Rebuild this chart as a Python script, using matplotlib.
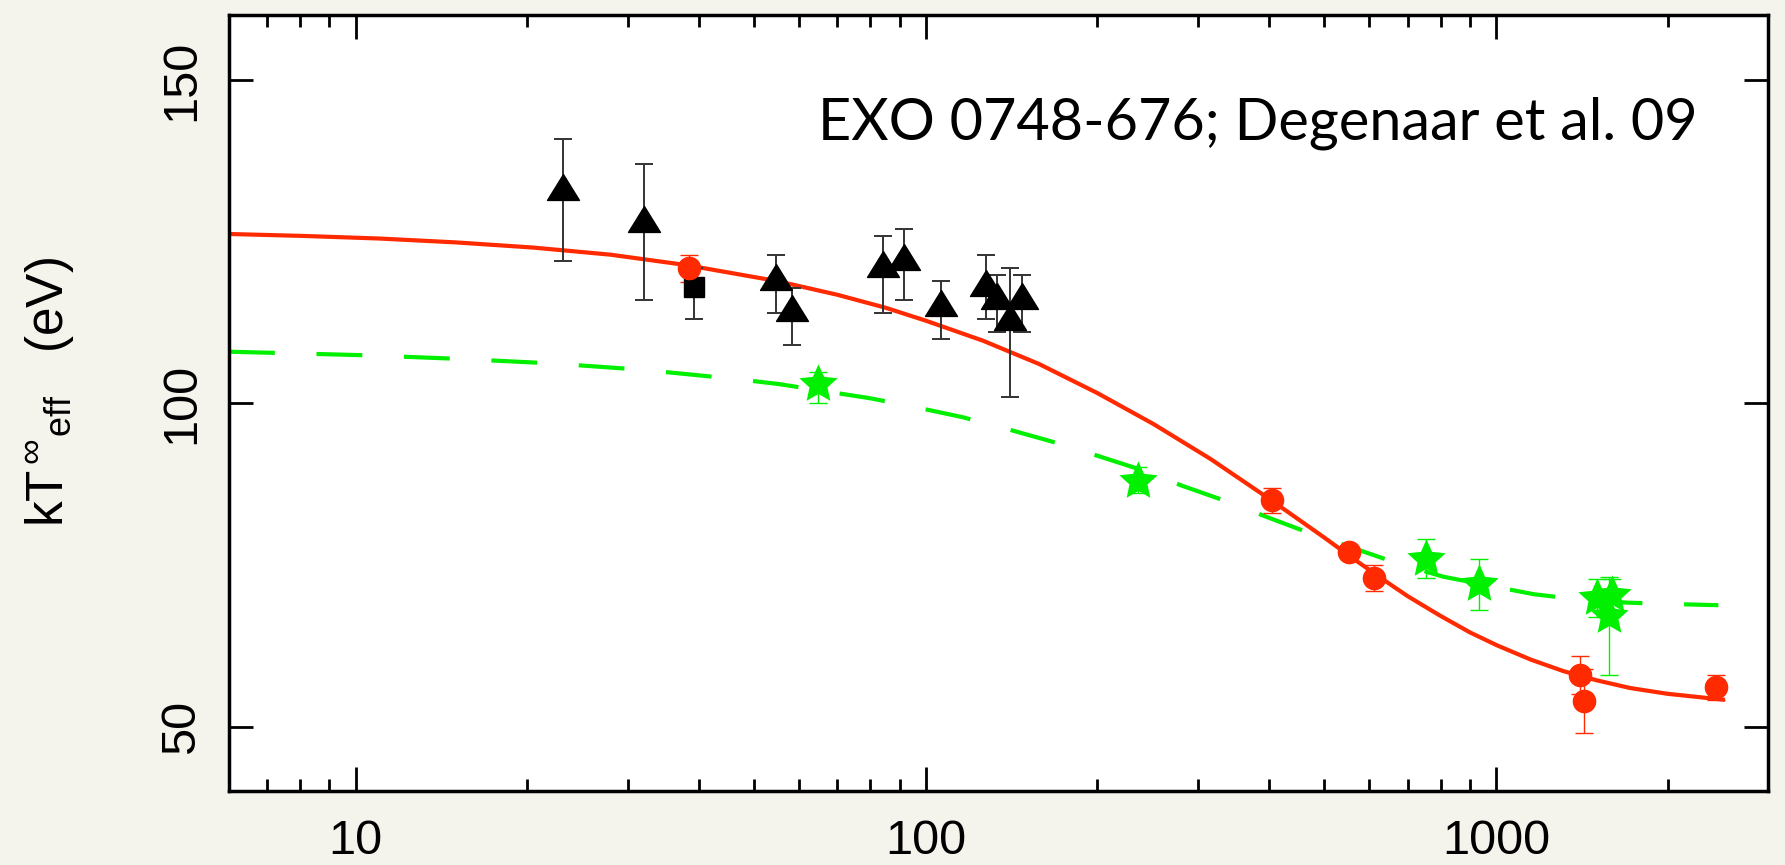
import numpy as np
import matplotlib
matplotlib.use("Agg")
import matplotlib.pyplot as plt
from matplotlib.ticker import FixedLocator, NullFormatter

plt.rcParams["font.family"] = ["Liberation Sans", "DejaVu Sans"]
plt.rcParams["mathtext.fontset"] = "custom"
plt.rcParams["mathtext.rm"] = "Liberation Sans"
plt.rcParams["mathtext.it"] = "Liberation Sans:italic"

BG = "#f4f3ec"
RED = "#ff2a00"
GREEN = "#00f000"

# XMM / Chandra points (black triangles), bounds of the error bars
tri_t = [23.1, 32.1, 54.7, 58.2, 84.3, 91.5, 106.2, 127.4, 133.5, 140.4, 147.6]
tri_kt = [133.4, 128.5, 119.6, 114.7, 121.6, 122.6, 115.6, 118.6, 116.6, 113.4, 116.6]
tri_hi = [140.9, 137.0, 122.9, 117.9, 125.9, 127.0, 119.0, 122.9, 119.9, 121.0, 119.9]
tri_lo = [122.0, 116.0, 114.0, 109.0, 114.0, 116.0, 110.0, 113.0, 111.0, 101.0, 111.0]

# single Swift point (black square)
sq_t = [39.2]
sq_kt = [118.0]
sq_hi = [120.9]
sq_lo = [113.0]

# red circles
red_t = [38.4, 404.7, 552.0, 612.0, 1405.0, 1424.0, 2432.0]
red_kt = [120.9, 85.0, 77.0, 73.0, 58.0, 54.05, 56.1]
red_hi = [123.0, 87.0, 78.0, 75.0, 61.0, 59.0, 58.0]
red_lo = [118.8, 83.0, 76.0, 71.0, 55.0, 49.0, 54.2]

# green stars
grn_t = [64.7, 235.3, 754.0, 933.0, 1503.0, 1597.0, 1576.0]
grn_kt = [103.0, 88.0, 76.0, 72.1, 69.9, 70.4, 67.2]
grn_hi = [104.9, 90.1, 79.0, 76.0, 72.9, 72.9, 73.1]
grn_lo = [100.1, 86.2, 73.0, 68.1, 67.0, 67.9, 58.0]

# model cooling curves
fit_red_t = [6.0, 8.1, 11.0, 15.0, 20.5, 28.0, 38.0, 55.0, 70.0, 85.0, 100.0,
             126.0, 158.0, 200.0, 251.0, 316.0, 398.0, 450.0, 501.0, 560.0,
             631.0, 700.0, 794.0, 900.0, 1004.0, 1150.0, 1314.0, 1500.0,
             1718.0, 2000.0, 2500.0]
fit_red_kt = [126.2, 125.9, 125.5, 124.9, 124.1, 123.0, 121.4, 118.9, 116.8, 114.8, 112.8,
              109.7, 106.1, 101.6, 96.8, 91.4, 85.4, 82.1, 79.2, 76.1,
              72.9, 70.2, 67.3, 64.6, 62.6, 60.4, 58.6, 57.2,
              56.0, 55.1, 54.2]

fit_grn_t = [6.0, 10.4, 15.1, 22.0, 31.9, 46.2, 55.2, 79.9, 96.2, 115.7, 138.2,
             165.0, 198.6, 239.3, 281.0, 336.0, 397.5, 473.0, 671.0, 809.0,
             1165.0, 1395.0, 1697.0, 2018.0, 2455.0]
fit_grn_kt = [108.0, 107.45, 106.9, 106.2, 105.2, 103.8, 103.0, 100.8, 99.4, 97.9,
              96.1, 94.2, 92.0, 89.7, 87.3, 84.9, 82.4, 79.9, 75.3, 73.2,
              70.5, 69.7, 69.2, 69.0, 68.8]

xticks = [10, 100, 1000]
yticks = [50, 100, 150]


def errs(y, lo, hi):
    return [[a - b for a, b in zip(y, lo)], [b - a for a, b in zip(y, hi)]]


# fat five-pointed star and a squat triangle for the markers
ang = np.pi / 2 + np.arange(10) * np.pi / 5
rad = np.where(np.arange(10) % 2 == 0, 1.0, 0.47)
star_marker = np.column_stack([rad * np.cos(ang), rad * np.sin(ang)])
tri_marker = [(0, 0.81), (-1, -0.81), (1, -0.81), (0, 0.81)]

fig = plt.figure(figsize=(17.85, 8.65), dpi=100, facecolor=BG)
ax = fig.add_axes([0.1283, 0.085, 0.8622, 0.8972])
ax.set_facecolor("white")

ax.plot(fit_red_t, fit_red_kt, color=RED, lw=3.0, zorder=2)
ax.plot(fit_grn_t, fit_grn_kt, color=GREEN, lw=3.0, dashes=(11, 10), zorder=2)

ax.errorbar(tri_t, tri_kt, yerr=errs(tri_kt, tri_lo, tri_hi), fmt="none",
            ecolor="#333333", elinewidth=1.4, capsize=6.5, capthick=1.4, zorder=3)
ax.plot(tri_t, tri_kt, ls="none", marker=tri_marker, ms=23, color="black", zorder=4)

ax.errorbar(sq_t, sq_kt, yerr=errs(sq_kt, sq_lo, sq_hi), fmt="none",
            ecolor="#333333", elinewidth=1.4, capsize=6.5, capthick=1.4, zorder=3)
ax.plot(sq_t, sq_kt, ls="none", marker="s", ms=14.5, color="black", zorder=4)

ax.errorbar(red_t, red_kt, yerr=errs(red_kt, red_lo, red_hi), fmt="none",
            ecolor=RED, elinewidth=1.0, capsize=6.5, capthick=1.0, zorder=3)
ax.plot(red_t, red_kt, ls="none", marker="o", ms=16, color=RED, zorder=4)

ax.errorbar(grn_t, grn_kt, yerr=errs(grn_kt, grn_lo, grn_hi), fmt="none",
            ecolor=GREEN, elinewidth=1.0, capsize=6.5, capthick=1.0, zorder=3)
ax.plot(grn_t, grn_kt, ls="none", marker=star_marker, ms=29, color=GREEN, mew=0, zorder=4)

ax.set_xscale("log")
ax.set_xlim(6, 3000)
ax.set_ylim(40, 160)

ax.xaxis.set_major_locator(FixedLocator(xticks))
ax.set_xticklabels([str(v) for v in xticks])
ax.xaxis.set_minor_locator(FixedLocator([7, 8, 9, 20, 30, 40, 50, 60, 70, 80, 90,
                                         200, 300, 400, 500, 600, 700, 800, 900, 2000]))
ax.xaxis.set_minor_formatter(NullFormatter())
ax.yaxis.set_major_locator(FixedLocator(yticks))
ax.set_yticklabels([str(v) for v in yticks], rotation=90, va="center")

ax.tick_params(which="both", direction="in", top=True, right=True, width=2.0, colors="black")
ax.tick_params(which="major", length=17)
ax.tick_params(which="minor", length=8.5)
ax.tick_params(axis="x", labelsize=35, pad=20)
ax.tick_params(axis="y", labelsize=35, pad=18)
for s in ax.spines.values():
    s.set_linewidth(2.5)

fig.text(0.028, 0.547, r"$\mathrm{kT}^{\,\infty}{}_{\mathrm{eff}}\ \ \ \mathrm{(eV)}$",
         rotation=90, ha="center", va="center", fontsize=37)

ax.text(0.9545, 0.8407, "EXO 0748-676; Degenaar et al. 09", transform=ax.transAxes,
        ha="right", va="baseline", fontsize=41.5, family=["Lato", "DejaVu Sans"])

fig.savefig("out.png", dpi=100, facecolor=BG)
